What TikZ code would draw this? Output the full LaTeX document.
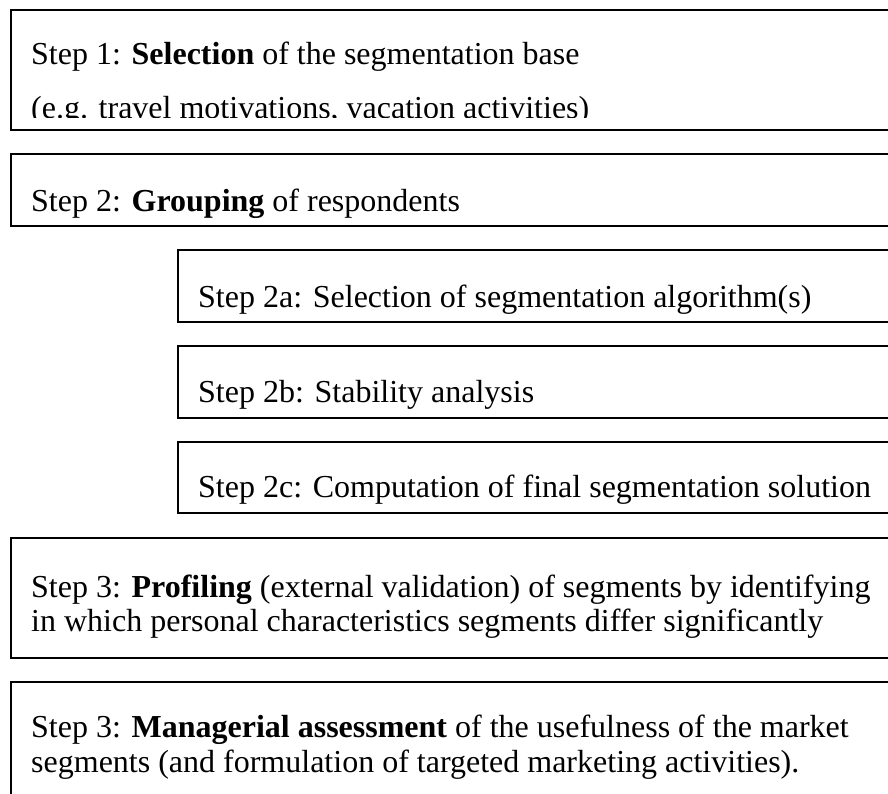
\documentclass[tikz,border=0pt]{standalone}
\usepackage{fontspec}
\setmainfont{Liberation Serif}
\begin{document}
\begin{tikzpicture}[x=1pt,y=-1pt,
  box/.style={draw=black,line width=1.6pt},
  txt/.style={anchor=base west,inner sep=0pt,font=\fontsize{32}{38}\selectfont}]
\useasboundingbox (0,0) rectangle (888,794);
\clip (0,0) rectangle (888,794);
% boxes
\draw[box] (11,10) rectangle (900,130);
\draw[box] (11,154) rectangle (900,226);
\draw[box] (178,250) rectangle (900,322);
\draw[box] (178,346) rectangle (900,418);
\draw[box] (178,442) rectangle (900,513);
\draw[box] (11,538) rectangle (900,658);
\draw[box] (11,682) rectangle (900,830);
% texts
\node[txt] (s1a) at (31,65) {Step 1: \textbf{Selection} of the segmentation base};
\begin{scope}
\clip (0,0) rectangle (888,118);
\node[txt] (s1b) at (31,119) {(e.g. travel motivations, vacation activities)};
\end{scope}
\node[txt] (s2) at (31,212) {Step 2: \textbf{Grouping} of respondents};
\node[txt] (s2a) at (198,307) {Step 2a: Selection of segmentation algorithm(s)};
\node[txt] (s2b) at (198,402) {Step 2b: Stability analysis};
\node[txt] (s2c) at (198,497) {Step 2c: Computation of final segmentation solution};
\node[txt] (s3a) at (31,597) {Step 3: \textbf{Profiling} (external validation) of segments by identifying};
\node[txt] (s3b) at (31,631) {in which personal characteristics segments differ significantly};
\node[txt] (s4a) at (31,737) {Step 3: \textbf{Managerial assessment} of the usefulness of the market};
\node[txt] (s4b) at (31,772) {segments (and formulation of targeted marketing activities).};
\end{tikzpicture}
\end{document}
